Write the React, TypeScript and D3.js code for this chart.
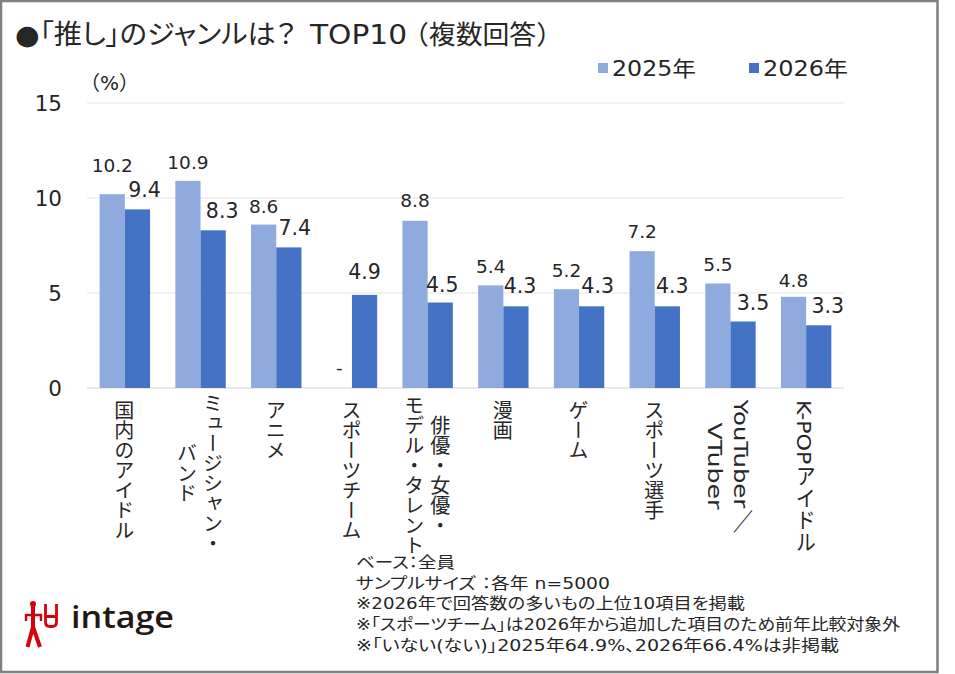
import React from "react";
import * as d3 from "d3";

const categories = ["国内のアイドル", "ミュージシャン・バンド", "アニメ", "スポーツチーム", "俳優・女優・モデル・タレント", "漫画", "ゲーム", "スポーツ選手", "YouTuber／VTuber", "K-POPアイドル"];
const categoryLines = [["国内のアイドル"], ["ミュージシャン・", "バンド"], ["アニメ"], ["スポーツチーム"], ["俳優・女優・", "モデル・タレント"], ["漫画"], ["ゲーム"], ["スポーツ選手"], ["YouTuber／", "VTuber"], ["K-POPアイドル"]];
const series2025: (number | null)[] = [10.2, 10.9, 8.6, null, 8.8, 5.4, 5.2, 7.2, 5.5, 4.8];
const series2026: number[] = [9.4, 8.3, 7.4, 4.9, 4.5, 4.3, 4.3, 4.3, 3.5, 3.3];
const yTicks = [0, 5, 10, 15];
const notes = [
  "ベース：全員",
  "サンプルサイズ ：各年 n=5000",
  "※2026年で回答数の多いもの上位10項目を掲載",
  "※「スポーツチーム」は2026年から追加した項目のため前年比較対象外",
  "※「いない(ない)」2025年64.9%、2026年66.4%は非掲載",
];
const noteWidths = [99, 254, 389, 544, 483];
// Hand-placed label nudges of the original chart (px: dx, extra lift)
const nudge2025 = [[0, 10], [0, 0], [0, 0], [0, 0], [0, 2], [0, 0], [0, 0], [0, 1], [0, 1], [0, -2]];
const nudge2026 = [[7, 0], [9, 0], [6, 0], [0, 4], [2, -1], [4, 1], [6, 1], [5, 1], [10, 0], [9, 0]];
const twoLineMid = [0, 473, 0, 0, 475, 0, 0, 0, 466, 0];
const latinLabelLength: Record<string, number> = { "YouTuber／": 133, VTuber: 87, "K-POPアイドル": 153 };

const JP = "'DejaVu Sans','Noto Sans CJK JP',sans-serif";
const LIGHT = "#8FAADC";
const DARK = "#4472C4";
const TEXT = "#262626";
const RED = "#D7000F";

export default function App() {
  const x = d3.scaleBand<string>().domain(categories).range([87, 844]).paddingInner(0).paddingOuter(0);
  const y = d3.scaleLinear().domain([0, 15]).range([388, 103]);
  const barW = 25.2;
  return (
    <svg width={955} height={674} style={{ position: "absolute", left: 0, top: 0, background: "#fff" }} fontFamily={JP} fill={TEXT}>
      <rect x={1} y={1} width={936.5} height={671} fill="#fff" stroke="#7f7f7f" strokeWidth={2.5} />
      <text x={15} y={44} fontSize={27} textLength={281} lengthAdjust="spacingAndGlyphs" style={{ fontFeatureSettings: "'palt'" }}>●「推し」のジャンルは？</text>
      <text x={310} y={44} fontSize={27} textLength={97} lengthAdjust="spacingAndGlyphs">TOP10</text>
      <text x={402} y={44} fontSize={26} textLength={161} lengthAdjust="spacingAndGlyphs">（複数回答）</text>

      <rect x={598} y={63} width={10} height={10} fill={LIGHT} />
      <text x={612} y={76} fontSize={21} textLength={84} lengthAdjust="spacingAndGlyphs">2025年</text>
      <rect x={749} y={63} width={10} height={10} fill={DARK} />
      <text x={763} y={76} fontSize={21} textLength={85} lengthAdjust="spacingAndGlyphs">2026年</text>

      <text x={80} y={90} fontSize={20}>（%）</text>

      {yTicks.map((t) => (
        <g key={t}>
          <line x1={87} x2={844} y1={y(t)} y2={y(t)} stroke={t === 0 ? "#d4d4d4" : "#e6e6e6"} strokeWidth={1.2} />
          <text x={62} y={y(t)} dy="0.36em" textAnchor="end" fontSize={21.5}>{t}</text>
        </g>
      ))}

      {categories.map((c, i) => {
        const cx = x(c)! + x.bandwidth() / 2;
        const a = series2025[i];
        const b = series2026[i];
        return (
          <g key={c}>
            {a !== null && <rect x={cx - barW} width={barW} y={y(a)} height={y(0) - y(a)} fill={LIGHT} />}
            <rect x={cx} width={barW} y={y(b)} height={y(0) - y(b)} fill={DARK} />
            {a !== null ? (
              <text x={cx - barW / 2 + nudge2025[i][0]} y={y(a) - 12 - nudge2025[i][1]} textAnchor="middle" fontSize={18.5}>{a.toFixed(1)}</text>
            ) : (
              <text x={cx - barW / 2} y={y(0) - 14} textAnchor="middle" fontSize={18.5}>-</text>
            )}
            <text x={cx + barW / 2 + nudge2026[i][0]} y={y(b) - 12 - nudge2026[i][1]} textAnchor="middle" fontSize={20.5}>{b.toFixed(1)}</text>
            {categoryLines[i].map((line, k) => {
              const two = categoryLines[i].length === 2;
              const len = latinLabelLength[line];
              return (
                <text
                  key={line}
                  x={(two ? cx + (k === 0 ? 13 : -13) : cx) - 2}
                  y={two ? twoLineMid[i] : 400}
                  textAnchor={two ? "middle" : "start"}
                  fontSize={20}
                  {...(len ? { textLength: len, lengthAdjust: "spacingAndGlyphs" } : {})}
                  style={{ writingMode: "vertical-rl", textOrientation: "mixed" }}
                >
                  {line}
                </text>
              );
            })}
          </g>
        );
      })}

      {notes.map((n, i) => (
        <text key={n} x={356} y={[568, 589, 609, 630, 651][i]} fontSize={15.5} textLength={noteWidths[i]} lengthAdjust="spacingAndGlyphs" style={{ fontFeatureSettings: "'palt'" }}>{n}</text>
      ))}

      <g stroke={RED} fill="none" strokeLinecap="butt">
        <circle cx={33} cy={604} r={3} fill={RED} stroke="none" />
        <path d="M33 606 L33 628 M33 627 L27.5 647 M33 627 L40 647" strokeWidth={4} />
        <path d="M26 621 L26 615 L41 615 L41 621" strokeWidth={2.4} />
        <path d="M45.5 604 L45.5 622 Q45.5 626.5 50 626.5 L52 626.5 Q56.5 626.5 56.5 622 L56.5 604 M45.5 616.5 L56.5 616.5" strokeWidth={2.8} />
      </g>
      <text x={71} y={628} fontSize={30} fontWeight={600} fontFamily="'Open Sans',sans-serif" fill="#231815" textLength={103} lengthAdjust="spacingAndGlyphs">intage</text>
    </svg>
  );
}
